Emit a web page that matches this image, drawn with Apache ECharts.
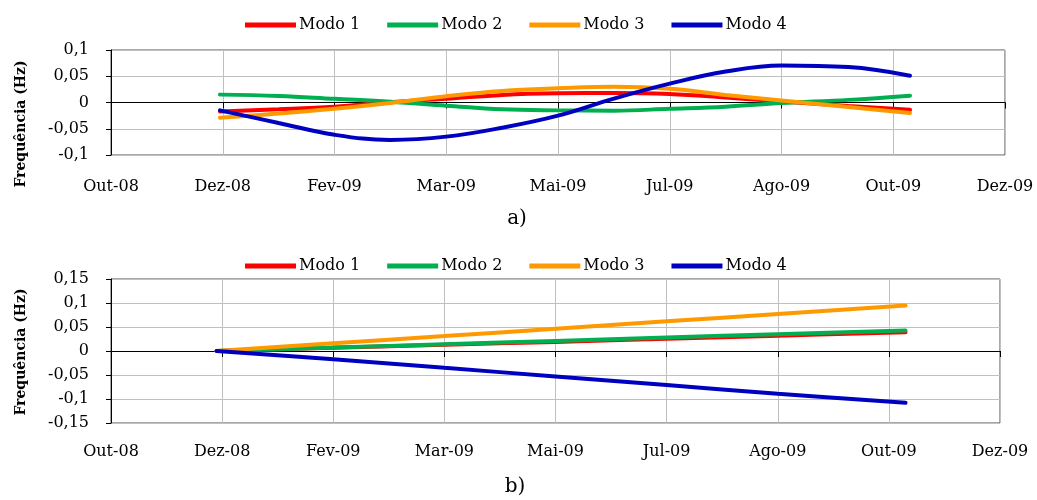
<!DOCTYPE html>
<html>
<head>
<meta charset="utf-8">
<script src="https://cdn.jsdelivr.net/npm/echarts@6/dist/echarts.min.js"></script>
<style>
html,body{margin:0;padding:0;background:#fff;}
#chart{width:1037px;height:500px;}
</style>
</head>
<body>
<div id="chart"></div>
<script>
// x positions measured in axis-tick units (0 = Out-08, 8 = Dez-09)
var xTickLabels = ['Out-08','Dez-08','Fev-09','Mar-09','Mai-09','Jul-09','Ago-09','Out-09','Dez-09'];
var seriesNames = ['Modo 1','Modo 2','Modo 3','Modo 4'];

// panel a)
var xTop   = [0.975, 1.5, 2, 2.5, 3, 3.5, 4, 4.5, 5, 5.5, 6, 6.6, 7.15];
var aModo1 = [-0.017, -0.013, -0.008, 0.0005, 0.007, 0.0145, 0.0175, 0.018, 0.016, 0.0095, 0.002, -0.0065, -0.014];
var aModo2 = [0.015, 0.0125, 0.007, 0.0015, -0.006, -0.013, -0.015, -0.0155, -0.012, -0.008, -0.001, 0.005, 0.013];
var aModo3 = [-0.029, -0.021, -0.012, -0.001, 0.012, 0.022, 0.027, 0.030, 0.026, 0.0143, 0.004, -0.0085, -0.020];
var aModo4 = [-0.015, -0.039, -0.0615, -0.0712, -0.065, -0.048, -0.025, 0.0075, 0.036, 0.059, 0.0705, 0.0675, 0.051];

// panel b)
var xBot   = [0.95, 2, 3, 4, 5, 6, 7.15];
var bModo1 = [0, 0.0066, 0.013, 0.019, 0.0255, 0.032, 0.039];
var bModo2 = [0, 0.0072, 0.014, 0.021, 0.028, 0.035, 0.0426];
var bModo3 = [0, 0.016, 0.031, 0.0465, 0.062, 0.077, 0.0946];
var bModo4 = [0, -0.017, -0.035, -0.053, -0.071, -0.089, -0.108];

var colors = ['#FF0000', '#00B050', '#FF9900', '#0000C0'];
var FONT = 'DejaVu Serif';

function pairs(xs, ys){ return xs.map(function(x,i){ return [x, ys[i]]; }); }
function fmtY(v){ var r = Math.round(v*100)/100; return String(r).replace('.', ','); }

function xAxisDef(gi, margin){
  return {
    type:'value', gridIndex:gi, min:0, max:8, interval:1,
    axisLine:{show:true, lineStyle:{color:'#000', width:1}},
    axisTick:{show:true, length:6, lineStyle:{color:'#000'}},
    axisLabel:{margin:margin, color:'#000', fontFamily:FONT, fontSize:16,
      formatter:function(v){ return xTickLabels[Math.round(v)] || ''; }},
    splitLine:{show:true, lineStyle:{color:'#C0C0C0', width:1}}
  };
}
function yAxisDef(gi, mn, mx){
  return {
    type:'value', gridIndex:gi, min:mn, max:mx, interval:0.05,
    axisLine:{show:true, lineStyle:{color:'#000', width:1}},
    axisTick:{show:true, length:5, lineStyle:{color:'#000'}},
    axisLabel:{margin:22, color:'#000', fontFamily:FONT, fontSize:16, formatter:fmtY},
    splitLine:{show:true, lineStyle:{color:'#C0C0C0', width:1}}
  };
}
function legendDef(top){
  return {
    top:top, left:240, itemWidth:51, itemHeight:5, itemGap:27,
    icon:'rect',
    textStyle:{fontFamily:FONT, fontSize:16, color:'#000', padding:[0,0,0,-2]},
    data:seriesNames
  };
}
function mk(name, idx, gi, xs, ys){
  return {
    name:name, type:'line', xAxisIndex:gi, yAxisIndex:gi,
    data:pairs(xs, ys), smooth:0.4, symbol:'none', showSymbol:false,
    color:colors[idx],
    lineStyle:{width:4, color:colors[idx], cap:'round'},
    z: 2 + idx
  };
}

var option = {
  animation:false,
  backgroundColor:'#fff',
  grid:[
    {left:111, right:32, top:50, height:105, show:true, borderColor:'#505050', borderWidth:1, backgroundColor:'transparent'},
    {left:111, right:37, top:279, height:144, show:true, borderColor:'#505050', borderWidth:1, backgroundColor:'transparent'}
  ],
  legend:[legendDef(12), legendDef(253)],
  xAxis:[xAxisDef(0, 24), xAxisDef(1, 21)],
  yAxis:[yAxisDef(0, -0.1, 0.1), yAxisDef(1, -0.15, 0.15)],
  graphic:[
    {type:'text', x:21, y:124, rotation:Math.PI/2,
      style:{text:'Frequência (Hz)', fontFamily:FONT, fontWeight:'bold', fontSize:14, fill:'#000', align:'center', verticalAlign:'middle'}},
    {type:'text', x:21, y:352, rotation:Math.PI/2,
      style:{text:'Frequência (Hz)', fontFamily:FONT, fontWeight:'bold', fontSize:14, fill:'#000', align:'center', verticalAlign:'middle'}},
    {type:'text', x:517, y:219,
      style:{text:'a)', fontFamily:FONT, fontSize:20, fill:'#000', align:'center', verticalAlign:'middle'}},
    {type:'text', x:515, y:487,
      style:{text:'b)', fontFamily:FONT, fontSize:20, fill:'#000', align:'center', verticalAlign:'middle'}}
  ],
  series:[
    mk(seriesNames[0], 0, 0, xTop, aModo1),
    mk(seriesNames[1], 1, 0, xTop, aModo2),
    mk(seriesNames[2], 2, 0, xTop, aModo3),
    mk(seriesNames[3], 3, 0, xTop, aModo4),
    mk(seriesNames[0], 0, 1, xBot, bModo1),
    mk(seriesNames[1], 1, 1, xBot, bModo2),
    mk(seriesNames[2], 2, 1, xBot, bModo3),
    mk(seriesNames[3], 3, 1, xBot, bModo4)
  ]
};
var chart = echarts.init(document.getElementById('chart'), null, {renderer:'canvas'});
chart.setOption(option);
</script>
</body>
</html>
